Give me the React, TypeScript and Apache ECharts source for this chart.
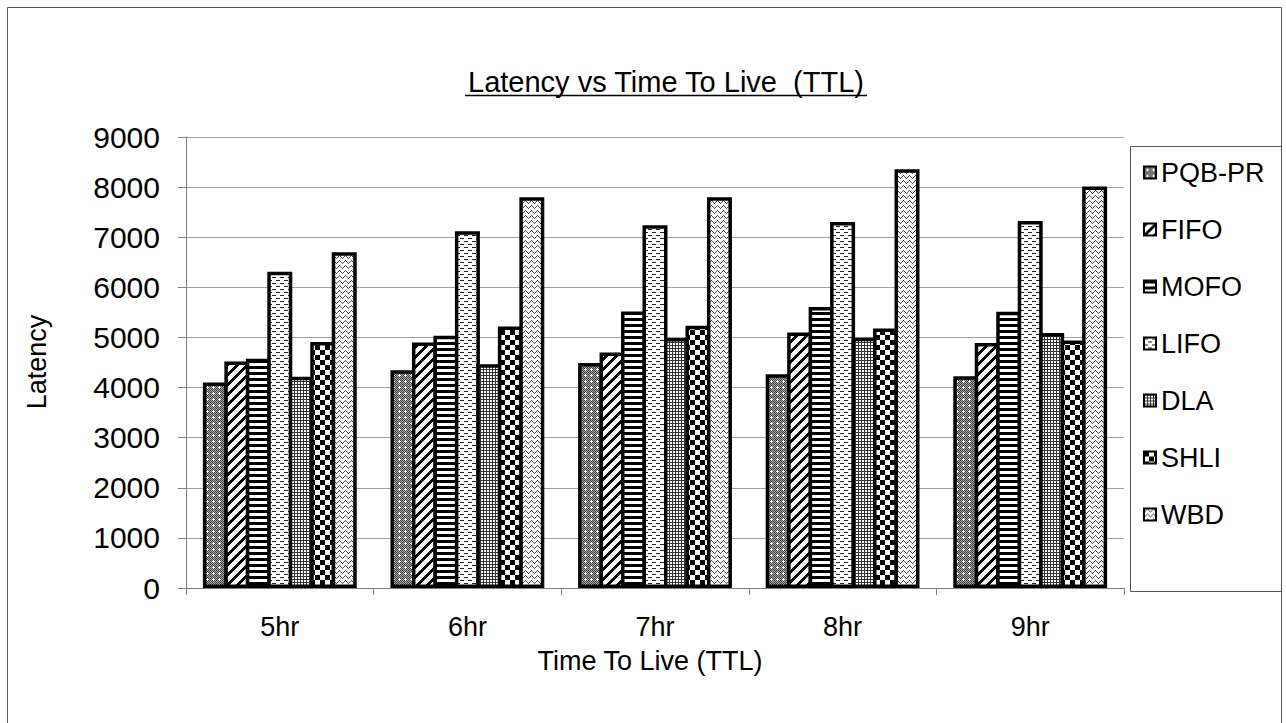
import React, { useEffect, useRef } from "react";
import * as echarts from "echarts";

// ---- data ----
const categories = ["5hr", "6hr", "7hr", "8hr", "9hr"];
const seriesNames = ["PQB-PR", "FIFO", "MOFO", "LIFO", "DLA", "SHLI", "WBD"];
const pqbPr = [4100, 4345, 4490, 4265, 4225];
const fifo = [4520, 4900, 4700, 5100, 4890];
const mofo = [4575, 5035, 5520, 5610, 5515];
const lifo = [6310, 7120, 7240, 7305, 7325];
const dla = [4215, 4465, 4990, 4995, 5090];
const shli = [4910, 5220, 5235, 5180, 4940];
const wbd = [6700, 7800, 7800, 8355, 8010];
const seriesValues = [pqbPr, fifo, mofo, lifo, dla, shli, wbd];
const yMin = 0;
const yMax = 9000;
const yInterval = 1000;
const titleText = "Latency vs Time To Live  (TTL)";
const xAxisName = "Time To Live (TTL)";
const yAxisName = "Latency";

const FONT = "'Liberation Sans', Arial, Helvetica, sans-serif";

// ---- patterns ----
type Ctx = CanvasRenderingContext2D;
function tile(w: number, h: number, draw: (ctx: Ctx) => void) {
  const c = document.createElement("canvas");
  c.width = w;
  c.height = h;
  const ctx = c.getContext("2d") as Ctx;
  ctx.fillStyle = "#ffffff";
  ctx.fillRect(0, 0, w, h);
  draw(ctx);
  return c;
}
function px(ctx: Ctx, color: string, x: number, y: number, w = 1, h = 1) {
  ctx.fillStyle = color;
  ctx.fillRect(x, y, w, h);
}

function makePatterns() {
  const pqb = tile(6, 6, (ctx) => {
    for (let y = 0; y < 6; y++)
      for (let x = 0; x < 6; x++) px(ctx, (x + y) % 2 ? "#a8a8a8" : "#404040", x, y);
    px(ctx, "#ffffff", 3, 3);
    px(ctx, "#ffffff", 2, 3);
    px(ctx, "#ffffff", 4, 3);
    px(ctx, "#ffffff", 3, 2);
    px(ctx, "#ffffff", 3, 4);
  });
  const diag = tile(10, 10, (ctx) => {
    for (let y = 0; y < 10; y++)
      for (let x = 0; x < 10; x++) if ((x + y) % 10 < 4) px(ctx, "#000", x, y);
  });
  const horiz = tile(4, 6, (ctx) => {
    px(ctx, "#000", 0, 0, 4, 3);
  });
  const dashes = tile(8, 6, (ctx) => {
    px(ctx, "#222", 0, 1, 4, 1);
    px(ctx, "#222", 4, 4, 4, 1);
  });
  const grid = tile(3, 3, (ctx) => {
    px(ctx, "#333", 0, 0, 3, 1);
    px(ctx, "#333", 0, 0, 1, 3);
  });
  const checker = tile(10, 10, (ctx) => {
    px(ctx, "#000", 0, 0, 5, 5);
    px(ctx, "#000", 5, 5, 5, 5);
  });
  const wave = tile(6, 5, (ctx) => {
    const ys = [3, 2, 1, 0, 1, 2];
    for (let x = 0; x < 6; x++) px(ctx, "#4a4a4a", x, ys[x]);
  });
  return [pqb, diag, horiz, dashes, grid, checker, wave];
}

function buildOption() {
  const patterns = makePatterns();
  const series = seriesNames.map((name, i) => ({
    name,
    type: "bar",
    data: seriesValues[i],
    barGap: "-14%",
    barCategoryGap: "18%",
    itemStyle: {
      color: {
        image: patterns[i],
        repeat: "repeat",
        imageWidth: patterns[i].width,
        imageHeight: patterns[i].height,
      },
      borderColor: "#000000",
      borderWidth: 3.5,
      borderType: "solid",
    },
    emphasis: { disabled: true },
  }));

  return {
    animation: false,
    backgroundColor: "#ffffff",
    textStyle: { fontFamily: FONT },
    grid: { left: 186, right: 162, top: 137, bottom: 135, containLabel: false },
    xAxis: {
      type: "category",
      data: categories,
      axisLine: { lineStyle: { color: "#808080", width: 1 } },
      axisTick: { show: true, length: 7, lineStyle: { color: "#808080" } },
      axisLabel: { fontSize: 27, color: "#000", margin: 25, fontFamily: FONT },
      splitLine: { show: false },
    },
    yAxis: {
      type: "value",
      min: yMin,
      max: yMax,
      interval: yInterval,
      axisLine: { show: true, lineStyle: { color: "#808080", width: 1 } },
      axisTick: { show: true, length: 8, lineStyle: { color: "#808080" } },
      axisLabel: {
        fontSize: 30,
        color: "#000",
        margin: 26,
        fontFamily: FONT,
        formatter: (v: number) => String(v),
      },
      splitLine: { show: true, lineStyle: { color: "#a0a0a0", width: 1 } },
    },
    legend: {
      orient: "vertical",
      left: 1143,
      top: 159,
      padding: 0,
      itemWidth: 12,
      itemHeight: 12,
      itemGap: 30,
      icon: "rect",
      itemStyle: { borderColor: "#000", borderWidth: 2 },
      textStyle: { fontSize: 27, color: "#000", lineHeight: 27, fontFamily: FONT },
      data: seriesNames,
      selectedMode: false,
    },
    graphic: [
      {
        type: "rect",
        silent: true,
        shape: { x: 7.5, y: 7.5, width: 1274, height: 730 },
        style: { fill: "none", stroke: "#555", lineWidth: 1 },
      },
      {
        type: "rect",
        silent: true,
        shape: { x: 1130.5, y: 146.5, width: 151, height: 445 },
        style: { fill: "none", stroke: "#555", lineWidth: 1 },
      },
      {
        type: "text",
        silent: true,
        x: 666,
        y: 82,
        style: {
          text: titleText,
          fontSize: 29,
          fontFamily: FONT,
          fill: "#000",
          textAlign: "center",
          textVerticalAlign: "middle",
          align: "center",
          verticalAlign: "middle",
        },
      },
      {
        type: "line",
        silent: true,
        shape: { x1: 465, y1: 95.5, x2: 867, y2: 95.5 },
        style: { stroke: "#000", lineWidth: 1.5 },
      },
      {
        type: "text",
        silent: true,
        x: 650,
        y: 661,
        style: {
          text: xAxisName,
          fontSize: 27,
          fontFamily: FONT,
          fill: "#000",
          textAlign: "center",
          textVerticalAlign: "middle",
          align: "center",
          verticalAlign: "middle",
        },
      },
      {
        type: "text",
        silent: true,
        x: 37,
        y: 362,
        rotation: Math.PI / 2,
        style: {
          text: yAxisName,
          fontSize: 27,
          fontFamily: FONT,
          fill: "#000",
          textAlign: "center",
          textVerticalAlign: "middle",
          align: "center",
          verticalAlign: "middle",
        },
      },
    ],
    series,
  };
}

export default function App() {
  const ref = useRef<HTMLDivElement>(null);
  useEffect(() => {
    if (!ref.current) return;
    const chart = echarts.init(ref.current, null, { renderer: "svg" });
    chart.setOption(buildOption() as any);
    return () => chart.dispose();
  }, []);
  return (
    <div
      ref={ref}
      style={{ position: "fixed", left: 0, top: 0, width: 1286, height: 723, background: "#fff" }}
    />
  );
}
